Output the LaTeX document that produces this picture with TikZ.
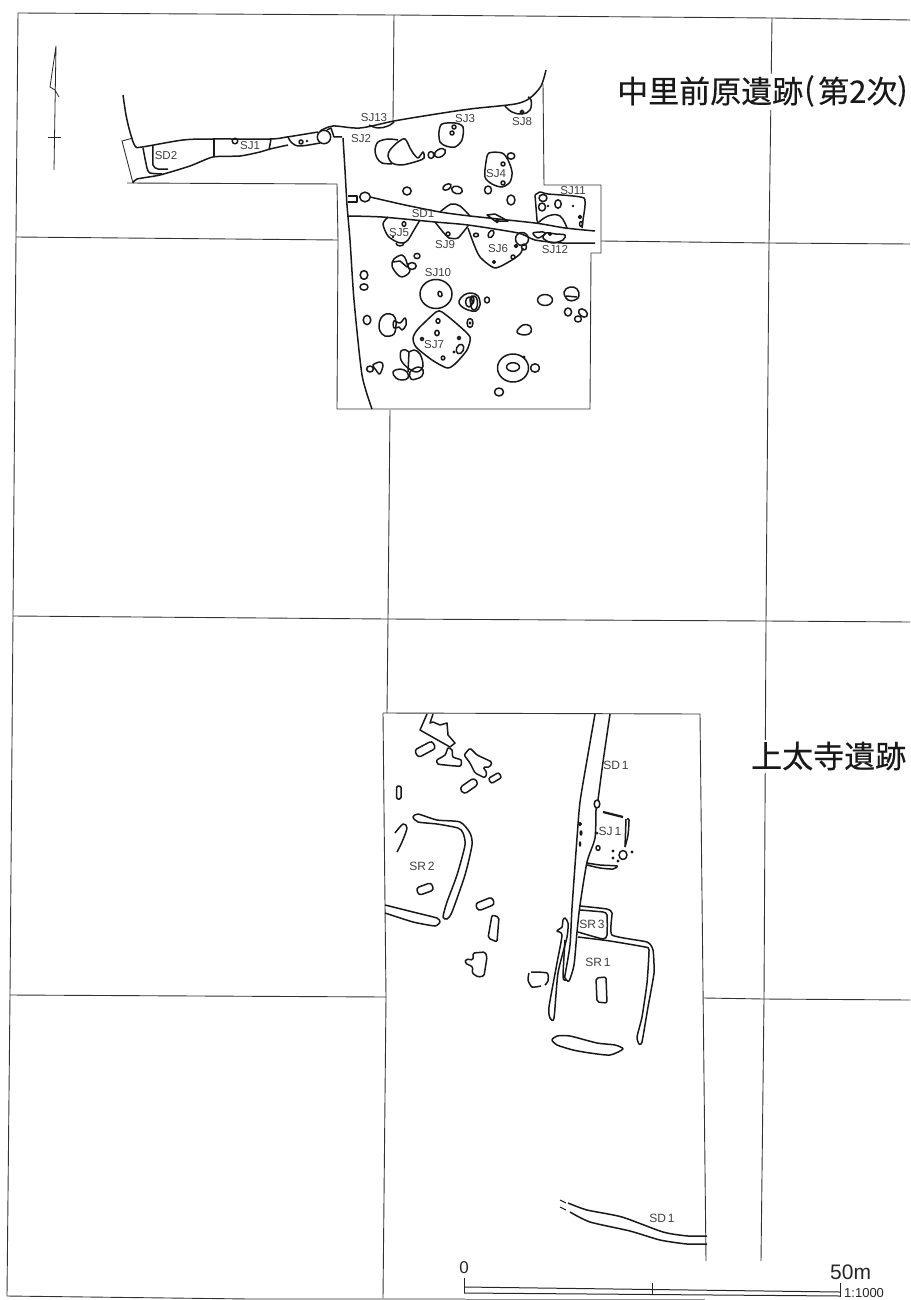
\documentclass[tikz,border=0pt]{standalone}
\usepackage{fontspec}
\setmainfont{Liberation Sans}
\newfontfamily\cjk[FakeBold=0.35]{Noto Sans CJK JP}
\tikzset{
 gridline/.style={line width=0.9pt,draw=black!80},
 feat/.style={line width=1.5pt,draw=black!90,line join=round},
 lab/.style={font=\fontsize{11.5}{11.5}\selectfont,text=black!75,inner sep=0pt},
 lablow/.style={font=\fontsize{12}{12}\selectfont,text=black!75,inner sep=0pt},
 dot/.style={fill=black!90,draw=none},
 title/.style={font=\cjk\fontsize{31}{31}\selectfont,inner sep=0pt,text=black!90},
 scaleline/.style={line width=1pt,draw=black!85},
}
\begin{document}
\begin{tikzpicture}[x=1pt,y=-1pt]
\useasboundingbox (0,0) rectangle (910,1300);
\fill[white] (0,0) rectangle (910,1300);
% grid
\draw[gridline] (910,20) -- (772,18) -- (394,15) -- (18,13);
\draw[gridline] (18,13) -- (16,237) -- (13,616) -- (10,995) -- (7,1296);
\draw[gridline] (7,1296) -- (250,1299) -- (465,1299);
\draw[line width=0.8pt,black!45] (465,1299) -- (705,1299);
\draw[gridline] (16,237) -- (338,240);
\draw[gridline] (601,241) -- (769,243) -- (910,244);
\draw[gridline] (13,616) -- (388,619) -- (766,621) -- (910,622);
\draw[gridline] (10,995) -- (386,997);
\draw[gridline] (704,998) -- (764,999) -- (910,1000);
\draw[gridline] (394,15) -- (393,122);
\draw[gridline] (772,18) -- (769,243) -- (766,621) -- (764,999) -- (761,1261);
\draw[gridline] (390,410) -- (388,619) -- (387,713);
\draw[gridline] (386,997) -- (383,1298);
% upper excavation outline
\draw[gridline] (337,184) -- (338,240) -- (337,409) -- (590,409) -- (591,253) -- (601,253) -- (601,185) -- (544,185) -- (543,84);
\draw[gridline] (337,184) -- (127,183);
\draw[gridline] (133,183) -- (122,141) -- (133,138);
% north arrow
\draw[line width=0.8pt,black!85] (54,170) -- (56,46) -- (50,87) -- (55,90) -- (59,97);
\draw[line width=0.8pt,black!85] (48,137) -- (61,137);
% upper left trench
\draw[feat] plot[smooth,tension=.5] coordinates {(123,95) (126,115) (130,132) (135,146) (142,147) (183,140) (213,139) (270,139) (287,137) (318,132)};
\draw[feat] plot[smooth,tension=.4] coordinates {(133,183) (137,179) (160,175) (190,166) (213,157) (240,156) (260,152) (270,149) (288,145)};
\draw[feat] plot[smooth,tension=.4] coordinates {(143,148) (147,168) (150,173) (162,174)};
\draw[feat] plot[smooth,tension=.4] coordinates {(153,146) (153,165) (158,169) (168,169)};
\draw[feat] (214,139) -- (214,157);
\draw[feat] (271,139) -- (269,150);
\draw[feat] plot[smooth,tension=.6] coordinates {(288,137) (292,143) (300,146) (320,143)};
\draw[feat] (235,141) circle[radius=2.8];
\draw[feat] (301,142) circle[radius=2];
\fill[dot] (307,141) circle[radius=1.3];
\draw[feat] (324,137) ellipse[x radius=6.7,y radius=6.7];
\draw[feat] (327,130) -- (331,128) -- (334,137) -- (342,137);
\draw[feat] plot[smooth,tension=.5] coordinates {(320,131) (333,126) (360,128) (394,121) (430,115) (470,109) (515,104) (530,98) (541,86) (546,70)};
\draw[feat] plot[smooth,tension=.4] coordinates {(343,138) (345,170) (347,205) (350,240) (354,300) (362,375) (372,409)};
% SJ13, SJ8
\draw[feat] plot[smooth,tension=.7] coordinates {(369,125) (378,128) (388,126) (394,122)};
\draw[feat] plot[smooth,tension=.7] coordinates {(505,106) (512,112) (522,114) (530,110) (531,100) (528,97)};
\draw[feat] (522,112) circle[radius=1.8];
% SJ3
\draw[feat] plot[smooth cycle,tension=.5] coordinates {(442,124) (455,123) (463,127) (462,140) (455,147) (446,146) (440,142) (439,132)};
\draw[feat] (454,127) circle[radius=2];
\draw[feat] (452,133) circle[radius=2];
% SJ2
\draw[feat] plot[smooth,tension=.5] coordinates {(398,140) (388,139) (378,142) (375,150) (377,158) (382,163) (392,164)};
\draw[feat] plot[smooth cycle,tension=.5] coordinates {(390,150) (398,142) (405,139) (410,148) (413,153) (418,158) (423,152) (424,158) (418,161) (402,165) (392,163) (388,156)};
\draw[feat,rotate around={30:(440,153)}] (440,153) ellipse[x radius=6,y radius=3.8];
\draw[feat] (431,155) ellipse[x radius=2.8,y radius=3.5];
% SJ4
\draw[feat] plot[smooth cycle,tension=.5] coordinates {(489,153) (502,153) (508,160) (512,172) (510,182) (502,187) (492,184) (485,177) (486,162)};
\draw[feat] (503,164) circle[radius=2];
\draw[feat] (503,183) circle[radius=2];
\draw[feat] (511,156) ellipse[x radius=3.8,y radius=3.2];
\draw[feat] (488,190) ellipse[x radius=3.5,y radius=4];
\draw[feat] (511,200) ellipse[x radius=4,y radius=5];
\draw[feat] (407,191) ellipse[x radius=4.2,y radius=4];
\draw[feat,rotate around={30:(447,187)}] (447,187) ellipse[x radius=4.5,y radius=2.7];
\draw[feat,rotate around={-15:(457,190)}] (457,190) ellipse[x radius=5.5,y radius=3.8];
% SD1 upper trench
\draw[feat] (348,196) -- (357,196) -- (357,202) -- (348,202);
\draw[feat] (365,197) ellipse[x radius=5.3,y radius=4.8];
\draw[feat] plot[smooth,tension=.4] coordinates {(370,197) (405,205) (440,212) (470,216) (535,223) (565,228) (595,231)};
\draw[feat] plot[smooth,tension=.4] coordinates {(348,216) (382,217) (435,222) (468,225) (518,233) (535,240) (562,243) (595,243)};
\draw[feat] plot[smooth,tension=.5] coordinates {(440,212) (451,204) (460,206) (470,216)};
\draw[feat] (487,215) -- (495,214) -- (508,221) -- (495,221) -- cycle;
\draw[feat] (497,221) circle[radius=1.6];
% SJ5
\draw[feat] plot[smooth,tension=.5] coordinates {(388,217) (383,224) (388,236) (397,242) (403,243) (408,240) (414,230) (420,220)};
\draw[feat] (404,224) ellipse[x radius=1.8,y radius=2.4];
\draw[feat] (396,243) arc[start angle=180,end angle=0,x radius=4,y radius=3];
\fill[dot] (393,237) circle[radius=1.4];
% SJ9
\draw[feat] plot[smooth,tension=.3] coordinates {(435,222) (443,232) (449,238) (458,238) (468,226)};
\draw[feat] (448,234) circle[radius=2];
% SJ6
\draw[feat] plot[smooth,tension=.4] coordinates {(468,228) (473,242) (480,257) (495,268) (512,260) (520,254) (523,248)};
\draw[feat] (476,235) ellipse[x radius=2.5,y radius=1.8];
\draw[feat,rotate around={60:(491,234)}] (491,234) ellipse[x radius=4,y radius=2.5];
\draw[feat] (522,239) ellipse[x radius=6.5,y radius=6.5];
\draw[feat] (524,247) ellipse[x radius=2.5,y radius=3];
\draw[feat] (516,246) circle[radius=1.5];
\draw[feat] (513,257) ellipse[x radius=2,y radius=2];
\draw[feat] (494,262) circle[radius=1.4];
% SJ11
\draw[feat] plot[smooth,tension=.3] coordinates {(535,195) (540,192) (548,194) (584,198) (583,220) (582,228)};
\draw[feat] (535,195) -- (537,220) -- (538,223);
\draw[feat] plot[smooth,tension=.7] coordinates {(538,223) (548,216) (560,216) (567,228)};
\draw[feat] (543,198) ellipse[x radius=4,y radius=3.5];
\draw[feat] (542,207) ellipse[x radius=3.5,y radius=4];
\draw[feat] (558,204) ellipse[x radius=3.2,y radius=4.2];
\fill[dot] (548,206) circle[radius=1.4];
\fill[dot] (573,206) circle[radius=1.4];
\draw[feat] (580,217) circle[radius=1.5];
\draw[feat] (581,224) ellipse[x radius=1.5,y radius=2.5];
% SJ12
\draw[feat] plot[smooth cycle,tension=.5] coordinates {(533,233) (543,232) (545,234) (538,238)};
\draw[feat] plot[smooth cycle,tension=.5] coordinates {(546,233) (556,234) (565,235) (563,240) (552,243) (543,238)};
\draw[feat] (550,234) circle[radius=1.3];
% lower group
\draw[feat] (364,275) ellipse[x radius=3.8,y radius=4.4];
\draw[feat] (364,287) ellipse[x radius=4,y radius=3.2];
\draw[feat] plot[smooth cycle,tension=.6] coordinates {(394,259) (402,255) (406,260) (408,267) (410,270) (408,274) (402,277) (397,274) (392,266)};
\draw[feat] (393,262) -- (400,261) -- (407,267);
\draw[feat] (412,266) ellipse[x radius=4.2,y radius=3.4];
\draw[feat] (417,256) ellipse[x radius=3,y radius=2.6];
\draw[feat] (436,294) ellipse[x radius=16,y radius=14.5];
\draw[feat,rotate around={20:(440,294)}] (440,294) ellipse[x radius=2,y radius=2.8];
\draw[feat] plot[smooth cycle,tension=.6] coordinates {(464,295) (471,293) (478,296) (480,305) (476,311) (468,310) (461,306) (459,301)};
\draw[feat] (469,302) ellipse[x radius=3.5,y radius=5];
\draw[feat] (474,303) ellipse[x radius=3.5,y radius=7];
\draw[feat] (472,300) ellipse[x radius=2,y radius=4];
\draw[feat] (487,300) ellipse[x radius=2.5,y radius=3];
\draw[feat] (545,300) ellipse[x radius=7.5,y radius=5.5];
\draw[feat] plot[smooth cycle,tension=.7] coordinates {(564,292) (570,287) (577,289) (579,296) (575,300) (568,300)};
\draw[feat] (566,296) -- (577,297);
\draw[feat] (568,312) ellipse[x radius=3.6,y radius=4];
\draw[feat,rotate around={-40:(583,313)}] (583,313) ellipse[x radius=5,y radius=3.5];
\draw[feat] (578,319) ellipse[x radius=3.5,y radius=3];
\draw[feat] plot[smooth cycle,tension=.7] coordinates {(517,332) (523,325) (530,326) (531,332) (525,335)};
\draw[feat] (367,320) ellipse[x radius=3.8,y radius=4.6];
\draw[feat] plot[smooth cycle,tension=.6] coordinates {(381,318) (386,314) (393,315) (396,322) (394,334) (385,336) (380,331) (379,325)};
\draw[feat] plot[smooth cycle,tension=.7] coordinates {(394,321) (400,323) (405,318) (406,325) (402,330) (399,327) (394,328)};
\draw[feat] plot[smooth cycle,tension=.4] coordinates {(436,312) (442,312) (457,324) (470,337) (467,350) (455,364) (447,368) (432,360) (416,347) (413,338) (418,329)};
\draw[feat] (438,321) ellipse[x radius=2,y radius=2.3];
\draw[feat] (437,333) ellipse[x radius=2.2,y radius=2.7];
\draw[feat] (422,339) circle[radius=1.7];
\draw[feat] (459,338) circle[radius=1.7];
\draw[feat] (443,358) ellipse[x radius=1.8,y radius=2];
\fill[dot] (454,352) circle[radius=1.6];
\draw[feat,rotate around={-25:(460,349)}] (460,349) ellipse[x radius=3.5,y radius=5];
\draw[feat] (470,323) ellipse[x radius=3,y radius=4.5];
\fill[dot] (470,323) circle[radius=1.6];
\draw[feat] plot[smooth cycle,tension=.6] coordinates {(401,351) (406,350) (409,352) (414,350) (420,354) (423,366) (417,372) (408,368) (401,360)};
\draw[feat] (409,352) -- (408,372);
\draw[feat] plot[smooth cycle,tension=.7] coordinates {(393,372) (400,369) (407,372) (408,378) (402,380) (396,378)};
\draw[feat] plot[smooth cycle,tension=.7] coordinates {(410,372) (418,367) (423,370) (422,376) (416,379) (411,379)};
\draw[feat] (370,369) ellipse[x radius=3.4,y radius=3];
\draw[feat] plot[smooth cycle,tension=.6] coordinates {(373,365) (380,362) (383,365) (381,372) (379,374) (376,370)};
\draw[feat] (513,368) ellipse[x radius=15.5,y radius=14];
\draw[feat] (513,367) ellipse[x radius=6.5,y radius=4.3];
\fill[dot] (524,357) circle[radius=1.6];
\draw[feat] (535,368) ellipse[x radius=4.5,y radius=4.2];
\draw[feat] (499,392) ellipse[x radius=4.5,y radius=4];
% upper labels
\node[lab] at (374,118) {SJ13};
\node[lab] at (465,119) {SJ3};
\node[lab] at (522,122) {SJ8};
\node[lab] at (361,139) {SJ2};
\node[lab] at (496,174) {SJ4};
\node[lab] at (573,191) {SJ11};
\node[lab] at (423,214) {SD1};
\node[lab] at (399,233) {SJ5};
\node[lab] at (445,245) {SJ9};
\node[lab] at (498,249) {SJ6};
\node[lab] at (555,250) {SJ12};
\node[lab] at (438,273) {SJ10};
\node[lab] at (434,345) {SJ7};
\node[lab] at (250,146) {SJ1};
\node[lab] at (166,156) {SD2};
% lower excavation
\draw[gridline] (383,713) -- (700,714) -- (706,1261);
\draw[gridline] (383,713) -- (385,905) -- (386,997);
% top-left features
\draw[feat] (427,714) -- (420,730) -- (450,747) -- (455,743) -- (448,735) -- (447,723) -- (440,725) -- (433,722) -- (430,723) -- (433,714);
\draw[feat,rounded corners=3pt,rotate around={28:(425,749)}] (415,745) rectangle (435,753.5);
\draw[feat] plot[smooth cycle,tension=.4] coordinates {(437,760) (445,755) (448,748) (452,750) (453,757) (461,760) (460,766) (445,765) (438,764)};
\draw[feat,rounded corners=1.5pt] (464,755) -- (470,748) -- (477,755) -- (492,762) -- (490,767) -- (483,767) -- (487,773) -- (485,778) -- (475,773) -- (470,763) -- cycle;
\draw[feat,rounded corners=2pt,rotate around={30:(495,778)}] (489,775) rectangle (501,781);
\draw[feat,rounded corners=3.5pt,rotate around={35:(469,786)}] (460,782) rectangle (478,790);
\draw[feat,rounded corners=1.5pt] (396.5,786) rectangle (401,799);
% SR2
\draw[feat] plot[smooth,tension=.5] coordinates {(395,833) (403,824) (407,828) (402,842) (397,852)};
\draw[feat] plot[smooth cycle,tension=.4] coordinates {(413,817) (418,814) (437,820) (460,822) (470,833) (472,845) (465,875) (452,912) (447,919) (443,917) (447,902) (457,875) (465,845) (463,833) (458,828) (437,824) (418,822)};
\draw[feat,rounded corners=3pt,rotate around={20:(425,889)}] (417,885) rectangle (433,893);
\draw[feat] plot[smooth,tension=.3] coordinates {(385,905) (413,912) (437,918) (440,922) (435,926) (413,922) (385,913)};
\draw[feat,rounded corners=3pt,rotate around={22:(485,904)}] (476,900) rectangle (494,908);
\draw[feat,rounded corners=2pt] (492,915) -- (499,917) -- (497,942) -- (488,938) -- cycle;
% SD1
\draw[feat] plot[smooth,tension=.4] coordinates {(595,714) (587,760) (580,802) (577,838) (572,908) (570,945) (565,975)};
\draw[feat] plot[smooth,tension=.4] coordinates {(610,714) (603,762) (598,800)};
\draw[feat] (597,804) ellipse[x radius=2.8,y radius=4];
\draw[feat] plot[smooth,tension=.4] coordinates {(596,808) (595,838) (587,862) (580,905) (577,932) (574,965) (569,981) (565,978) (565,975)};
% SJ1
\draw[line width=2.2pt,black!90] (603,812) -- (623,817);
\draw[feat] plot[smooth,tension=.5] coordinates {(627,819) (629,820) (628,835) (625,847)};
\draw[feat] (626,819) -- (625,847);
\draw[feat] (623,855) ellipse[x radius=4,y radius=4.5];
\draw[feat] (598,848) ellipse[x radius=2,y radius=2.4];
\draw[feat] (580,824) circle[radius=1.4];
\fill[dot] (581,833) ellipse[x radius=1.6,y radius=2.8];
\fill[dot] (580,844) ellipse[x radius=1.3,y radius=2.8];
\fill[dot] (597,833) circle[radius=1.5];
\fill[dot] (613,851) circle[radius=1.6];
\fill[dot] (613,858) circle[radius=1.6];
\fill[dot] (632,852) circle[radius=1.6];
\fill[dot] (618,861) circle[radius=1.6];
\draw[feat] plot[smooth,tension=.4] coordinates {(587,863) (600,865) (617,866) (613,869) (600,868) (587,865)};
% SR3 and SR1
\draw[feat] plot[smooth,tension=.3] coordinates {(580,906) (607,909) (612,913) (612,935) (647,942) (653,950) (654,973) (648,1007) (642,1042) (639,1044) (637,1037) (642,1017) (647,983) (649,950) (645,947) (610,941) (578,937)};
\draw[feat] plot[smooth,tension=.3] coordinates {(580,910) (603,912) (607,915) (607,935) (603,939) (578,932)};
\draw[feat] plot[smooth cycle,tension=.4] coordinates {(565,918) (568,923) (567,937) (558,973) (554,1018) (550,1018) (549,1007) (557,963) (562,935) (557,931) (562,927) (563,920)};
\draw[feat] plot[smooth,tension=.4] coordinates {(565,940) (563,977) (566,980)};
\draw[feat] plot[smooth,tension=.4] coordinates {(531,972) (547,973) (548,981) (545,985)};
\draw[feat] plot[smooth,tension=.4] coordinates {(541,986) (532,987) (528,980) (529,973)};
\draw[feat,rounded corners=2pt] (596,978) -- (606,977) -- (607,1003) -- (597,1002) -- cycle;
\draw[feat] plot[smooth cycle,tension=.4] coordinates {(552,1040) (557,1036) (570,1036) (597,1043) (615,1045) (623,1049) (610,1055) (590,1053) (573,1050) (557,1045)};
\draw[feat,rounded corners=1.5pt] (473,953) -- (485,952) -- (487,957) -- (484,976) -- (478,977) -- (472,973) -- (473,967) -- (465,963) -- (466,959) -- (473,960) -- cycle;
% lower ditch
\draw[line width=1pt,black!90] (560,1200) -- (566,1203);
\draw[line width=1pt,black!90] (560,1207) -- (566,1210);
\draw[feat] plot[smooth,tension=.4] coordinates {(568,1203) (587,1210) (622,1217) (663,1232) (688,1236) (707,1236)};
\draw[feat] plot[smooth,tension=.4] coordinates {(570,1212) (590,1222) (630,1231) (660,1240) (687,1244) (707,1244)};
% lower labels
\node[lablow] at (616,765) {SD\,1};
\node[lablow] at (610,831) {SJ\,1};
\node[lablow] at (422,866) {SR\,2};
\node[lablow] at (592,924) {SR\,3};
\node[lablow] at (598,962) {SR\,1};
\node[lablow] at (662,1218) {SD\,1};
% titles
\fill[white] (760,74) rectangle (782,110);
\fill[white] (755,740) rectangle (775,773);
\node[title,anchor=west] (t1) at (617,91) {中里前原遺跡};
\node[title,anchor=west] (t1a) at (804,91) {(};
\node[title,anchor=west] (t1b) at (818,91) {第2次};
\node[title,anchor=west] (t1c) at (897,91) {)};
\node[title,anchor=west] (t2) at (751,756) {上太寺遺跡};
% scale
\draw[scaleline] (464,1278) -- (464,1293);
\draw[scaleline] (464,1287) -- (840,1292);
\draw[scaleline] (464,1293) -- (840,1296);
\draw[scaleline] (652,1283) -- (652,1295);
\draw[scaleline] (840,1283) -- (840,1297);
\node[inner sep=0pt,font=\fontsize{17}{17}\selectfont,text=black!85] at (464,1268) {0};
\node[inner sep=0pt,font=\fontsize{21}{21}\selectfont,text=black!85,anchor=west] at (830,1272) {50m};
\node[inner sep=0pt,font=\fontsize{13}{13}\selectfont,text=black!85,anchor=west] at (844,1293) {1:1000};
\end{tikzpicture}
\end{document}
